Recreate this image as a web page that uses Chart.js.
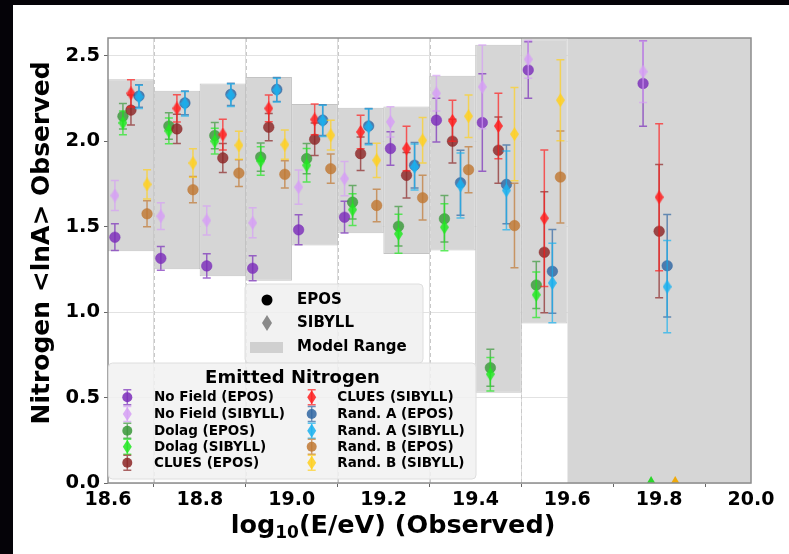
<!DOCTYPE html>
<html>
<head>
<meta charset="utf-8">
<script src="https://cdn.jsdelivr.net/npm/chart.js@4.4.1/dist/chart.umd.min.js"></script>
<style>
  html, body { margin: 0; padding: 0; background: #050308; width: 789px; height: 554px; overflow: hidden; }
  #wrap { position: absolute; left: 13px; top: 5px; width: 776px; height: 549px; background: #fff; }
  canvas { display: block; }
</style>
</head>
<body>
<div id="wrap"><canvas id="chart" width="776" height="549"></canvas></div>
<script>
// ---- energy bins (log10 E/eV) ----
const binCenters = [18.65, 18.75, 18.85, 18.95, 19.05, 19.15, 19.25, 19.35, 19.45, 19.55, 19.8];
const binEdges = [18.7, 18.9, 19.1, 19.3, 19.5];

// ---- model range band per 0.1 bin ----
const bandCenters = [18.65, 18.75, 18.85, 18.95, 19.05, 19.15, 19.25, 19.35, 19.45, 19.55];
const bandLow  = [1.356, 1.251, 1.21, 1.184, 1.390, 1.462, 1.341, 1.361, 0.528, 0.934];
const bandHigh = [2.363, 2.296, 2.339, 2.376, 2.218, 2.196, 2.204, 2.384, 2.566, 2.598];
// open-ended range above 19.6
const openBandX    = [19.6, 20.0];
const openBandLow  = [0, 0];
const openBandHigh = [2.7, 2.7];

// ---- observed <lnA> and uncertainties ----
const noFieldEpos      = [1.439, 1.315, 1.271, 1.257, 1.482, 1.556, 1.958, 2.124, 2.110, 2.418, 2.339];
const noFieldEposErr   = [0.078, 0.070, 0.071, 0.073, 0.088, 0.093, 0.098, 0.128, 0.285, 0.165, 0.250];
const noFieldSibyll    = [1.683, 1.562, 1.537, 1.523, 1.732, 1.782, 2.114, 2.281, 2.319, 2.480, 2.408];
const noFieldSibyllErr = [0.088, 0.078, 0.085, 0.088, 0.100, 0.100, 0.088, 0.104, 0.245, 0.110, 0.180];
const dolagEpos        = [2.147, 2.090, 2.034, 1.908, 1.899, 1.644, 1.503, 1.547, 0.675, 1.159, null];
const dolagEposErr     = [0.075, 0.077, 0.077, 0.083, 0.088, 0.098, 0.115, 0.136, 0.108, 0.138, null];
const dolagSibyll      = [2.108, 2.061, 2.001, 1.885, 1.860, 1.600, 1.459, 1.497, 0.637, 1.102, null];
const dolagSibyllErr   = [0.070, 0.075, 0.075, 0.084, 0.098, 0.093, 0.114, 0.137, 0.098, 0.133, null];
const cluesEpos        = [2.183, 2.073, 1.903, 2.083, 2.012, 1.928, 1.801, 2.001, 1.948, 1.351, 1.474];
const cluesEposErr     = [0.088, 0.085, 0.085, 0.080, 0.095, 0.098, 0.133, 0.128, 0.194, 0.354, 0.390];
const cluesSibyll      = [2.281, 2.193, 2.040, 2.193, 2.128, 2.055, 1.958, 2.120, 2.090, 1.550, 1.673];
const cluesSibyllErr   = [0.080, 0.080, 0.090, 0.078, 0.090, 0.098, 0.130, 0.120, 0.192, 0.400, 0.430];
const randAEpos        = [2.265, 2.225, 2.275, 2.304, 2.124, 2.090, 1.860, 1.758, 1.748, 1.239, 1.272];
const randAEposErr     = [0.066, 0.070, 0.065, 0.070, 0.090, 0.103, 0.133, 0.190, 0.230, 0.245, 0.300];
const randASibyll      = [2.260, 2.220, 2.270, 2.300, 2.120, 2.085, 1.850, 1.742, 1.713, 1.171, 1.149];
const randASibyllErr   = [0.068, 0.072, 0.066, 0.070, 0.092, 0.105, 0.135, 0.190, 0.230, 0.233, 0.270];
const randBEpos        = [1.576, 1.717, 1.814, 1.807, 1.840, 1.625, 1.670, 1.834, 1.507, 1.791, null];
const randBEposErr     = [0.076, 0.077, 0.078, 0.080, 0.086, 0.095, 0.131, 0.135, 0.247, 0.269, null];
const randBSibyll      = [1.748, 1.873, 1.977, 1.981, 2.036, 1.889, 2.006, 2.147, 2.042, 2.241, null];
const randBSibyllErr   = [0.086, 0.083, 0.082, 0.086, 0.087, 0.100, 0.133, 0.125, 0.273, 0.237, null];

// fields with no composition in the last bin, shown as markers at zero
const emptyBinDolag = [0];
const emptyBinRandB = [0];

// ---- axis ticks ----
const xTicks = [18.6, 18.8, 19.0, 19.2, 19.4, 19.6, 19.8, 20.0];
const yTicks = [0.0, 0.5, 1.0, 1.5, 2.0, 2.5];

// ---- styling ----
const FONT = '"DejaVu Sans", "Liberation Sans", sans-serif';
const BAND = '#d6d6d6';
const fieldShift = { 'No Field': -0.035, 'Dolag': -0.0175, 'CLUES': 0, 'Rand. A': 0.0175, 'Rand. B': 0.035 };

const series = [
  { name: 'No Field (EPOS)',   field: 'No Field', model: 'EPOS',   vals: noFieldEpos,   errs: noFieldEposErr,   rgb: [123, 45, 186] },
  { name: 'No Field (SIBYLL)', field: 'No Field', model: 'SIBYLL', vals: noFieldSibyll, errs: noFieldSibyllErr, rgb: [214, 160, 245] },
  { name: 'Dolag (EPOS)',      field: 'Dolag',    model: 'EPOS',   vals: dolagEpos,     errs: dolagEposErr,     rgb: [58, 152, 58] },
  { name: 'Dolag (SIBYLL)',    field: 'Dolag',    model: 'SIBYLL', vals: dolagSibyll,   errs: dolagSibyllErr,   rgb: [34, 232, 34] },
  { name: 'CLUES (EPOS)',      field: 'CLUES',    model: 'EPOS',   vals: cluesEpos,     errs: cluesEposErr,     rgb: [140, 38, 38] },
  { name: 'CLUES (SIBYLL)',    field: 'CLUES',    model: 'SIBYLL', vals: cluesSibyll,   errs: cluesSibyllErr,   rgb: [255, 30, 30] },
  { name: 'Rand. A (EPOS)',    field: 'Rand. A',  model: 'EPOS',   vals: randAEpos,     errs: randAEposErr,     rgb: [48, 102, 162] },
  { name: 'Rand. A (SIBYLL)',  field: 'Rand. A',  model: 'SIBYLL', vals: randASibyll,   errs: randASibyllErr,   rgb: [26, 178, 240] },
  { name: 'Rand. B (EPOS)',    field: 'Rand. B',  model: 'EPOS',   vals: randBEpos,     errs: randBEposErr,     rgb: [192, 120, 50] },
  { name: 'Rand. B (SIBYLL)',  field: 'Rand. B',  model: 'SIBYLL', vals: randBSibyll,   errs: randBSibyllErr,   rgb: [255, 208, 32] }
];

const rgba = (c, a) => `rgba(${c[0]},${c[1]},${c[2]},${a})`;

// thin diamond marker used for SIBYLL points
function diamondImage(fill, w, h) {
  const cv = document.createElement('canvas');
  cv.width = w; cv.height = h;
  const g = cv.getContext('2d');
  g.beginPath();
  g.moveTo(w / 2, 0); g.lineTo(w, h / 2); g.lineTo(w / 2, h); g.lineTo(0, h / 2);
  g.closePath();
  g.fillStyle = fill; g.fill();
  return cv;
}

const datasets = [];

// gray model-range band, one box per bin
datasets.push({
  type: 'bar',
  label: 'Model Range',
  data: bandCenters.map((c, i) => ({ x: c, y: [bandLow[i], bandHigh[i]] })),
  backgroundColor: BAND,
  borderColor: '#c3c3c3',
  borderWidth: 1,
  borderSkipped: false,
  barPercentage: 1.01,
  categoryPercentage: 1,
  clip: 0,
  order: 100
});
// open range as a filled area between two edges
datasets.push({
  type: 'line',
  label: 'open low',
  data: openBandX.map((x, i) => ({ x, y: openBandLow[i] })),
  borderColor: 'rgba(0,0,0,0)', borderWidth: 1, pointRadius: 0, fill: false,
  clip: 0, order: 99
});
datasets.push({
  type: 'line',
  label: 'open high',
  data: openBandX.map((x, i) => ({ x, y: openBandHigh[i] })),
  borderColor: 'rgba(0,0,0,0)', borderWidth: 1, pointRadius: 0,
  fill: '-1', backgroundColor: BAND,
  clip: 0, order: 98
});

series.forEach((s, k) => {
  const pts = [];
  s.vals.forEach((v, i) => {
    if (v === null) return;
    pts.push({ x: binCenters[i] + fieldShift[s.field], y: v, err: s.errs[i] });
  });
  const isEpos = s.model === 'EPOS';
  datasets.push({
    type: 'scatter',
    label: s.name,
    data: pts,
    showLine: false,
    pointStyle: isEpos ? 'circle' : diamondImage(rgba(s.rgb, 0.85), 9, 14),
    pointRadius: 5.3,
    pointHoverRadius: 5.3,
    pointBackgroundColor: rgba(s.rgb, 0.82),
    pointBorderColor: rgba(s.rgb, 0.9),
    pointBorderWidth: 0.5,
    errColor: rgba(s.rgb, 0.7),
    order: 20 - k
  });
});

// zero markers in the last bin
datasets.push({
  type: 'scatter',
  label: 'Dolag zero',
  data: emptyBinDolag.map(v => ({ x: binCenters[10] + fieldShift['Dolag'], y: v })),
  pointStyle: 'triangle',
  pointRadius: 7,
  pointBackgroundColor: 'rgba(34,214,34,0.95)',
  pointBorderColor: 'rgba(34,214,34,0.95)',
  pointBorderWidth: 0,
  clip: 0,
  order: 1
});
datasets.push({
  type: 'scatter',
  label: 'Rand. B zero',
  data: emptyBinRandB.map(v => ({ x: binCenters[10] + fieldShift['Rand. B'], y: v })),
  pointStyle: 'triangle',
  pointRadius: 7,
  pointBackgroundColor: 'rgba(240,168,0,0.95)',
  pointBorderColor: 'rgba(240,168,0,0.95)',
  pointBorderWidth: 0,
  clip: 0,
  order: 0
});

// vertical uncertainty bars, drawn right before each series' markers
const errorBars = {
  id: 'errorBars',
  beforeDatasetDraw(chart, args) {
    const ds = chart.data.datasets[args.index];
    if (!ds.errColor) return;
    const { ctx, chartArea: a } = chart;
    const ys = chart.scales.y;
    ctx.save();
    ctx.beginPath();
    ctx.rect(a.left, a.top, a.right - a.left, a.bottom - a.top);
    ctx.clip();
    ctx.strokeStyle = ds.errColor;
    ctx.lineWidth = 1.5;
    args.meta.data.forEach((pt, i) => {
      const d = ds.data[i];
      if (d.err == null) return;
      const top = ys.getPixelForValue(d.y + d.err);
      const bot = ys.getPixelForValue(d.y - d.err);
      ctx.beginPath();
      ctx.moveTo(pt.x, top); ctx.lineTo(pt.x, bot);
      ctx.moveTo(pt.x - 4, top); ctx.lineTo(pt.x + 4, top);
      ctx.moveTo(pt.x - 4, bot); ctx.lineTo(pt.x + 4, bot);
      ctx.stroke();
    });
    ctx.restore();
  }
};

// dashed separators at the bin edges
const binEdgeLines = {
  id: 'binEdgeLines',
  beforeDatasetsDraw(chart) {
    const { ctx, chartArea: a, scales: { x } } = chart;
    ctx.save();
    ctx.strokeStyle = '#c9c9c9';
    ctx.lineWidth = 1;
    ctx.setLineDash([4, 3]);
    binEdges.forEach(v => {
      const px = Math.round(x.getPixelForValue(v)) + 0.5;
      ctx.beginPath(); ctx.moveTo(px, a.top); ctx.lineTo(px, a.bottom); ctx.stroke();
    });
    ctx.restore();
  }
};

function roundRect(ctx, x, y, w, h, r) {
  ctx.beginPath();
  ctx.moveTo(x + r, y);
  ctx.lineTo(x + w - r, y); ctx.quadraticCurveTo(x + w, y, x + w, y + r);
  ctx.lineTo(x + w, y + h - r); ctx.quadraticCurveTo(x + w, y + h, x + w - r, y + h);
  ctx.lineTo(x + r, y + h); ctx.quadraticCurveTo(x, y + h, x, y + h - r);
  ctx.lineTo(x, y + r); ctx.quadraticCurveTo(x, y, x + r, y);
  ctx.closePath();
}

function markerGlyph(ctx, x, y, s) {
  const col = rgba(s.rgb, 0.7);
  ctx.save();
  ctx.strokeStyle = col; ctx.lineWidth = 1.5;
  ctx.beginPath();
  ctx.moveTo(x, y - 7.5); ctx.lineTo(x, y + 7.5);
  ctx.moveTo(x - 4, y - 7.5); ctx.lineTo(x + 4, y - 7.5);
  ctx.moveTo(x - 4, y + 7.5); ctx.lineTo(x + 4, y + 7.5);
  ctx.stroke();
  ctx.fillStyle = rgba(s.rgb, 0.85);
  ctx.beginPath();
  if (s.model === 'EPOS') {
    ctx.arc(x, y, 5, 0, Math.PI * 2);
  } else {
    ctx.moveTo(x, y - 7); ctx.lineTo(x + 4.5, y); ctx.lineTo(x, y + 7); ctx.lineTo(x - 4.5, y); ctx.closePath();
  }
  ctx.fill();
  ctx.restore();
}

// frame, axis titles and the two legends
const decorations = {
  id: 'decorations',
  afterDraw(chart) {
    const { ctx, chartArea: a } = chart;
    ctx.save();
    ctx.strokeStyle = '#8c8c8c';
    ctx.lineWidth = 1.5;
    ctx.strokeRect(a.left, a.top, a.right - a.left, a.bottom - a.top);

    // y title
    ctx.fillStyle = '#000';
    ctx.save();
    ctx.translate(29, 238);
    ctx.rotate(-Math.PI / 2);
    ctx.font = `bold 25px ${FONT}`;
    ctx.textAlign = 'center'; ctx.textBaseline = 'middle';
    ctx.fillText('Nitrogen <lnA> Observed', 0, 0);
    ctx.restore();

    // x title with subscript
    const big = `bold 25.5px ${FONT}`, small = `bold 17px ${FONT}`;
    ctx.textBaseline = 'alphabetic'; ctx.textAlign = 'left';
    ctx.font = big; const w1 = ctx.measureText('log').width;
    ctx.font = small; const w2 = ctx.measureText('10').width;
    ctx.font = big; const w3 = ctx.measureText('(E/eV) (Observed)').width;
    let tx = 380 - (w1 + w2 + w3) / 2;
    const ty = 528;
    ctx.font = big; ctx.fillText('log', tx, ty); tx += w1;
    ctx.font = small; ctx.fillText('10', tx, ty + 5); tx += w2;
    ctx.font = big; ctx.fillText('(E/eV) (Observed)', tx, ty);

    // model legend
    roundRect(ctx, 232, 279, 178, 79, 4);
    ctx.fillStyle = 'rgba(240,240,240,0.85)'; ctx.fill();
    ctx.strokeStyle = 'rgba(222,222,222,1)'; ctx.lineWidth = 1; ctx.stroke();
    ctx.fillStyle = '#000';
    ctx.beginPath(); ctx.arc(254, 295, 5.5, 0, Math.PI * 2); ctx.fill();
    ctx.fillStyle = '#8a8a8a';
    ctx.beginPath(); ctx.moveTo(254, 310); ctx.lineTo(259, 318); ctx.lineTo(254, 326); ctx.lineTo(249, 318); ctx.closePath(); ctx.fill();
    ctx.fillStyle = '#d0d0d0'; ctx.fillRect(237, 337, 33, 11);
    ctx.fillStyle = '#000';
    ctx.font = `bold 15px ${FONT}`; ctx.textBaseline = 'middle';
    ctx.fillText('EPOS', 284, 295);
    ctx.fillText('SIBYLL', 284, 318);
    ctx.fillText('Model Range', 284, 342.5);

    // field legend
    roundRect(ctx, 95.5, 358, 367.5, 116, 4);
    ctx.fillStyle = 'rgba(241,241,241,0.85)'; ctx.fill();
    ctx.strokeStyle = 'rgba(222,222,222,1)'; ctx.stroke();
    ctx.fillStyle = '#000';
    ctx.font = `bold 18px ${FONT}`; ctx.textAlign = 'center';
    ctx.fillText('Emitted Nitrogen', 279.5, 373.5);
    ctx.textAlign = 'left';
    ctx.font = `bold 13.5px ${FONT}`;
    const rows = [392.3, 409, 425.7, 441.7, 457.7];
    series.forEach((s, i) => {
      const col = i < 5 ? 0 : 1, row = i % 5;
      const mx = col ? 298.7 : 114.3, txx = col ? 324.3 : 141;
      markerGlyph(ctx, mx, rows[row], s);
      ctx.fillStyle = '#000';
      ctx.fillText(s.name, txx, rows[row] + 0.5);
    });
    ctx.restore();
  }
};

new Chart(document.getElementById('chart'), {
  type: 'scatter',
  data: { datasets },
  plugins: [errorBars, binEdgeLines, decorations],
  options: {
    responsive: false,
    animation: false,
    devicePixelRatio: 1,
    layout: { padding: { top: 33, right: 38, left: 0, bottom: 0 } },
    plugins: { legend: { display: false }, tooltip: { enabled: false } },
    scales: {
      x: {
        type: 'linear',
        min: xTicks[0], max: xTicks[xTicks.length - 1],
        offset: false,
        afterFit: s => { s.height = 71; },
        afterBuildTicks: s => { s.ticks = xTicks.map(v => ({ value: v })); },
        ticks: {
          callback: v => v.toFixed(1),
          font: { family: FONT, weight: 'bold', size: 19 },
          color: '#000', padding: 2, maxRotation: 0, autoSkip: false
        },
        grid: { color: '#dedede', lineWidth: 1, drawTicks: true, tickLength: 4, tickColor: '#666', z: -1 },
        border: { display: false }
      },
      y: {
        type: 'linear',
        min: 0, max: 2.605,
        afterFit: s => { s.width = 95; },
        afterBuildTicks: s => { s.ticks = yTicks.map(v => ({ value: v })); },
        ticks: {
          callback: v => v.toFixed(1),
          font: { family: FONT, weight: 'bold', size: 19.5 },
          color: '#000', padding: 4
        },
        grid: { color: '#e2e2e2', lineWidth: 1, drawTicks: true, tickLength: 4, tickColor: '#666', z: -1 },
        border: { display: false }
      }
    }
  }
});
</script>
</body>
</html>
